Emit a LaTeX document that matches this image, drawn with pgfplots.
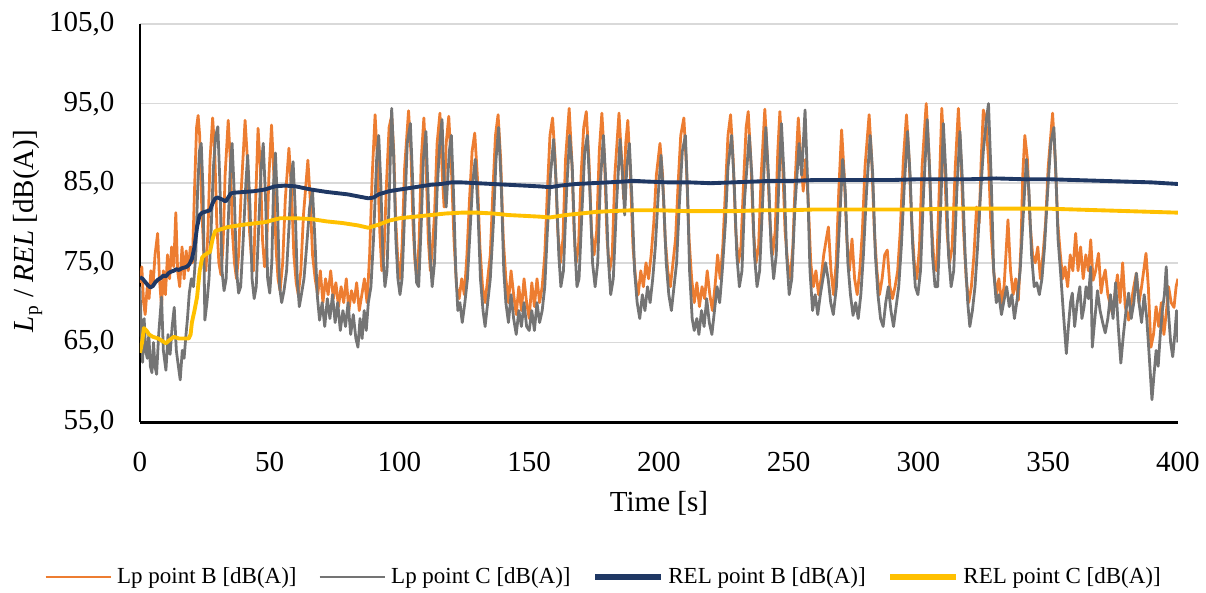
\documentclass[border=0pt]{standalone}
\usepackage{fontspec}
\setmainfont{Liberation Serif}
\usepackage{pgfplots}
\pgfplotsset{compat=1.18}

\definecolor{lpB}{HTML}{ED7D31}
\definecolor{lpC}{HTML}{747474}
\definecolor{relB}{HTML}{1F3864}
\definecolor{relC}{HTML}{FFC000}
\definecolor{gridc}{HTML}{D9D9D9}

\begin{document}
\begin{tikzpicture}
\begin{axis}[
  at={(0,0)}, anchor=south west,
  scale only axis, width=428.9pt, height=164.5pt,
  xmin=0, xmax=400, ymin=55, ymax=105,
  xtick={0,50,...,400}, ytick={55,65,...,105},
  axis x line*=bottom, axis y line*=left,
  axis line style={black, line width=1.2pt, -},
  major tick length=0pt,
  ymajorgrids, grid style={gridc, line width=0.7pt},
  tick label style={font=\fontsize{12}{14}\selectfont},
  /pgf/number format/assume math mode=true,
  yticklabel style={/pgf/number format/.cd, fixed, fixed zerofill, precision=1, use comma, /tikz/.cd, xshift=-7pt},
  xticklabel style={/pgf/number format/.cd, fixed, precision=0, /tikz/.cd, yshift=-9pt},
  xlabel={Time [s]},
  xlabel style={font=\fontsize{12}{14}\selectfont, at={(axis description cs:0.5,-0.204)}, anchor=center},
  ylabel={\textit{L}\textsubscript{p} / \textit{REL} [dB(A)]},
  ylabel style={font=\fontsize{12}{14}\selectfont, at={(axis description cs:-0.108,0.48)}, anchor=center},
  legend columns=4,
  legend style={draw=none, fill=none, font=\fontsize{9.5}{11}\selectfont,
    at={(0.448,-0.389)}, anchor=center,
    /tikz/every even column/.append style={column sep=7pt}},
  legend image code/.code={\draw[#1] (0pt,0pt) -- (27pt,0pt);},
]
% Lp point B
\addplot[lpB, line width=1.15pt, line join=round, forget plot] coordinates {
(0,72.5) (0.7,74.5) (1.4,70) (2,68.5) (2.8,72) (3.5,70.5) (4.2,74) (5,72) (5.8,76) (6.8,78.7)
(7.5,73) (8.3,69.5) (9,74) (9.8,71) (10.6,76) (11.4,73) (12.2,77) (13,74.5) (13.8,81.3) (14.5,74)
(15.3,72) (16.2,77) (17,73) (17.8,76.5) (18.6,74) (19.4,77) (20.2,75) (21,84) (21.8,92) (22.4,93.5)
(23,91) (23.8,82) (24.6,76) (25.4,74) (26.2,79) (27,88) (28,93.2) (28.8,89) (29.6,80) (30.4,75)
(31.2,73.5) (32,77) (32.8,86) (34,92.9) (34.8,88) (35.6,79) (36.4,75) (37.2,73) (38,76) (39,84)
(40.5,92.9) (41.4,88) (42.2,79) (43,75.5) (43.8,74) (44.6,83) (45.5,91.9) (46.4,87) (47.2,78) (48,74.5)
(48.8,77) (49.7,86) (50.7,92.3) (51.6,86) (52.4,77) (53.2,73) (54,71.5) (55,75) (56,83) (57.4,89.4)
(58.4,84) (59.3,76) (60.2,72.5) (61,71) (62,74) (63,81) (64.7,87.9) (65.6,83) (66.5,76) (67.5,73)
(68.5,71) (69.5,74) (70.5,70) (71.5,73) (72.5,71) (73.5,74) (74.5,70.5) (75.5,72.5) (76.5,69.5) (77.5,72)
(78.5,70) (79.5,73) (80.5,69) (81.5,71.5) (82.5,70) (83.5,72.5) (84.5,69) (85.5,71) (86.5,73) (87.5,70)
(88.5,76) (89.5,86) (90.6,93.6) (91.5,88) (92.4,79) (93.2,74) (94,76) (95,85) (96,92) (97,93.5)
(97.8,89) (98.6,80) (99.4,75) (100.2,73) (101,77) (102,87) (103.5,94.1) (104.4,89) (105.2,80) (106,75)
(106.8,73) (107.6,78) (108.4,88) (109.4,93.2) (110.3,87) (111.1,78) (111.9,74) (112.7,77) (113.5,81) (114.5,90)
(115.6,93.8) (116.5,86) (117.2,82) (118,90) (119,93.4) (120,87) (121,78) (122,72) (123,70.5) (124,73)
(125,71) (126,76) (127,83) (128,89) (129,91.3) (130,86) (131,77) (132,72) (133,70) (134,73)
(135,76) (136,84) (137,91) (138,93.6) (139,88) (140,78) (141,73) (142,70) (143,74) (144,71)
(145,68.5) (146,72) (147,69) (148,73) (149,70) (150,68) (151,72.5) (152,69.5) (153,73) (154,70)
(155,72) (156,76) (157,84) (158,91) (159,93.2) (160,88) (161,79) (162,75) (163,78) (164,88)
(165.4,94.4) (166.4,88) (167.3,79) (168.1,75) (169,77) (170,86) (171,92) (172,94) (173,88) (174,79)
(175,76) (176,79) (177,89) (178,93.8) (179,88) (180,78) (181,74) (182,76) (183,86) (184.6,93.8)
(185.6,88) (186.4,83) (187.2,90) (188,92.9) (189,86) (190,77) (191,73) (192,71) (193,74) (194,72)
(195,75) (196,73) (197,76) (198,80) (199,86) (200.4,90) (201.4,86) (202.4,78) (203.4,74) (204.4,72)
(205.4,75) (206.4,78) (207.4,85) (208.4,91) (209.6,93.2) (210.6,87) (211.6,78) (212.6,73) (213.6,70) (214.6,72.5)
(215.6,69.5) (216.6,72) (217.6,70.5) (218.6,74) (219.6,71) (220.6,69) (221.6,72) (222.6,76) (223.6,73) (224.6,77)
(225.6,84) (226.6,91) (227.6,93.6) (228.6,88) (229.6,79) (230.6,75) (231.6,77) (232.6,85) (233.6,92) (234.4,94)
(235.4,88) (236.4,79) (237.4,75) (238.4,77) (239.4,86) (240.8,94.3) (241.8,88) (242.8,80) (243.8,76) (244.8,79)
(245.8,89) (246.6,94) (247.6,88) (248.6,79) (249.6,75) (250.6,73) (251.6,77) (252.6,86) (253.7,93.2) (254.7,88)
(255.6,84) (256.5,88) (257.5,83) (258.5,75) (259.5,72) (260.5,74) (261.5,71) (262.5,73) (263.5,76) (264.5,78)
(265.3,79.5) (266.3,74) (267.3,71) (268.3,75) (269.3,84) (270.4,91.7) (271.4,86) (272.4,78) (273.4,74) (274.4,78)
(275.4,73) (276.4,71) (277.4,74) (278.4,79) (279.4,87) (281,93.6) (282,88) (283,79) (284,74) (285,71)
(286,73) (287,76) (288,76.6) (289,72) (290,70.5) (291,72) (292,74) (293,79) (294.2,88) (295.4,93.6)
(296.4,88) (297.4,80) (298.4,75) (299.4,73) (300.4,77) (301.4,87) (303,95) (304,89) (305,80) (306,75)
(307,74) (308,84) (309,94.4) (310,88) (311,79) (312,75) (313,77) (314.2,87) (315.4,94.4) (316.4,88)
(317.4,79) (318.4,73) (319.4,70) (320.4,72) (321.4,76) (322.4,82) (323.4,80) (324.2,88) (325,94.2) (326,93)
(327,88) (328,79) (329,74) (330,71) (331,73) (332,70) (333,72) (334.5,80.4) (335.5,74) (336.5,71)
(337.5,73) (338.5,70.3) (339.5,77) (340.2,86) (341,91) (342,88) (343,80) (344,76) (345,75) (346,77)
(347,73) (348,76) (349,80) (350,87) (351.7,93.8) (352.7,88) (353.7,80) (354.7,76) (355.6,73) (356.5,74.5)
(357.5,72) (358.5,76) (359.5,74) (360.6,78.7) (361.5,74) (362.5,77) (363.5,73) (364.5,76) (365.5,74) (366.4,77.9)
(367.3,72.8) (368.3,74) (369.4,76.2) (370.4,71.2) (371.2,73) (372,74.1) (373,71) (374.7,68.7) (375.7,71) (376.7,73.5)
(377.7,70) (378.7,75) (379.7,69.5) (381,67.8) (382,70) (383,72) (384,73.7) (385,70) (386,72) (387.7,76.2)
(388.6,72) (389.6,64.4) (390.6,66) (391.6,69.5) (392.6,67) (393.6,70) (394.6,66) (395.6,69) (396.4,72) (397.4,70)
(398.5,69.4) (399.3,72) (400,73)
};
% Lp point C
\addplot[lpC, line width=1.15pt, line join=round, forget plot] coordinates {
(0,72) (0.5,66) (1,62.5) (1.6,68) (2.2,64) (2.8,63) (3.4,66) (4,62) (4.6,61.2) (5.2,65)
(5.8,62) (6.4,61) (7.2,66) (8.3,70.7) (9,64) (10,61.5) (10.8,66) (11.6,63.5) (12.4,67) (13.2,69.4)
(14,64) (14.8,62) (15.5,60.3) (16.3,64) (17,63) (17.6,65.5) (18.3,68) (19,71.2) (19.8,73) (20.6,72)
(21.5,76) (22.2,84) (22.9,89) (23.6,90) (24.3,84) (25,67.8) (25.8,70) (26.6,73) (27.4,79) (28.3,87)
(29.2,91) (30,92.1) (30.8,85) (31.6,74) (32.4,71.5) (33.2,73) (34,80) (34.8,87) (35.5,90) (36.3,84)
(37.2,74) (38,71.2) (38.8,72) (39.8,78) (40.8,85) (41.5,88.5) (42.4,82) (43.2,73) (44,70.5) (44.8,72)
(45.8,80) (46.7,87) (47.5,90) (48.4,83) (49.2,73) (50,71.2) (50.8,75) (51.5,85) (52.2,88.8) (53,82)
(53.8,72) (54.6,70) (55.5,71.5) (56.5,74) (57.5,80) (58.3,86) (59,87.7) (59.8,82) (60.6,73) (61.4,69.5)
(62.2,71) (63.2,73) (64.2,77) (65.4,82) (66.5,84) (67.4,78) (68.3,71) (69.2,67.8) (70.2,70) (71.2,67)
(72.2,70.5) (73.2,68) (74.2,71) (75.2,67.5) (76.2,70) (77.2,66.5) (78.2,69) (79.2,67) (80.2,70) (81.2,66)
(82.2,68.5) (83.2,65.5) (84,64.4) (84.8,68) (85.6,65.5) (86.4,69) (87.2,66.5) (88,70) (89,72) (90,78)
(91.2,88) (92,91) (92.8,85) (93.6,76) (94.4,72) (95.2,74) (96.2,85) (97,94.4) (97.8,88) (98.6,78)
(99.4,73) (100.2,71) (101,73) (102.2,83) (103,90) (104.2,92.5) (105,86) (105.8,77) (106.6,72.5) (107.4,72)
(108.4,80) (109.2,88) (110.2,91.5) (111,84) (111.8,76) (112.6,72) (113.5,75) (114.5,84) (115.5,90) (116.4,93)
(117.2,85) (118,82) (119.2,89) (120,91) (120.8,84) (121.7,74) (122.5,69) (123.3,70) (124.2,67.5) (125.2,70)
(126.2,73) (127.2,79) (128.2,85) (129.2,88) (130.2,82) (131.2,73) (132.2,69) (133,67) (134,70) (135,73)
(136.2,80) (137.2,88) (138.2,92) (139.2,85) (140.2,74) (141,70) (142,67.5) (143,71) (144,68) (145,66)
(146,69) (147,67) (148,70) (149,67) (150,66.5) (151,69) (152,66.5) (153,70) (154,67.5) (155,69)
(156,72) (157,79) (158.2,86) (159.4,90.5) (160.4,85) (161.4,76) (162.2,72) (163.2,74) (164.4,84) (165.6,91)
(166.6,87) (167.6,77) (168.4,72) (169.2,73) (170.4,82) (171.4,89) (172.4,91) (173.4,84) (174.4,75) (175.4,72)
(176.4,75) (177.4,85) (178.6,91) (179.4,86) (180.4,76) (181.4,71) (182.4,73) (183.6,82) (185,90.5) (186,86)
(186.8,81) (187.6,87) (188.6,90) (189.6,83) (190.6,74) (191.6,70) (192.6,68) (193.6,71) (194.6,69) (195.6,72)
(196.6,70) (197.6,73) (198.6,77) (199.8,84) (200.8,88.5) (201.8,83) (202.8,75) (203.8,71) (204.8,69) (205.8,72)
(206.8,75) (207.8,82) (209,89) (210.2,91) (211,84) (211.8,74) (212.8,68) (213.6,66.5) (214.6,68) (215.4,66)
(216.4,69) (217.4,67) (218.4,70.5) (219.4,67.5) (220.4,66) (221.4,69) (222.4,72) (223.4,70) (224.4,74) (225.6,80)
(226.6,87) (228,91) (229,85) (230,76) (231,72) (232,74) (233,83) (234.8,91) (235.8,86) (236.8,76)
(237.8,72) (238.8,74) (240,83) (241.2,92) (242.2,86) (243.2,77) (244.2,73) (245.2,76) (246.2,85) (247.2,92.5)
(248.2,86) (249.2,76) (250.2,71) (251.2,73) (252.4,82) (254,90) (255,86) (256.3,94.2) (257.2,86) (258.2,74)
(259.2,69) (260.2,71) (261.2,68.5) (262.2,71) (263.2,73) (264.2,75) (265.2,73) (266.2,70) (267.2,68.5) (268.4,72)
(269.6,80) (270.8,88) (271.8,84) (272.8,75) (273.8,71) (274.8,68.4) (275.8,70) (276.8,68) (277.8,71) (278.8,76)
(280,84) (281.4,91) (282.4,86) (283.4,76) (284.4,71) (285.4,68) (286.4,67) (287.4,70) (288.4,72) (289.4,69)
(290.4,67) (291.4,69.5) (292.4,72) (293.4,77) (294.6,85) (295.8,91.5) (296.8,86) (297.8,77) (298.8,72) (299.8,71)
(300.8,74) (302,84) (303.4,93) (304.4,86) (305.4,76) (306.4,72) (307.4,72) (308.6,82) (309.6,92.5) (310.6,86)
(311.6,76) (312.6,72) (313.6,74) (314.8,84) (316,91.5) (317,85) (318,76) (319,70) (319.8,67) (320.8,69)
(321.8,72) (322.8,77) (323.8,83) (325,89) (326.2,93) (327,95) (328,86) (329,74) (330,70) (331,71)
(332,68.5) (333,70.3) (334,72) (335,69.5) (336,71) (337,68) (338,70.3) (339.2,74) (340.4,81) (341.6,88)
(342.6,84) (343.6,76) (344.6,72) (345.6,72.5) (346.6,71) (347.6,73) (348.6,77) (349.8,84) (351,90) (352.2,92)
(353,86) (353.8,78) (354.8,73.7) (355.8,69) (357,63.6) (357.8,67) (358.6,70) (359.3,71.2) (360.2,67) (361.2,70)
(362.2,72) (363,68) (363.8,69.4) (364.6,72) (365.5,70.5) (366.4,74.5) (367,64.4) (368,68) (369,71.5) (370,69)
(371,67.5) (372,66.2) (373,68) (374,71) (375,68) (376,72.5) (377,67) (378,62.4) (379,66) (380,69)
(381,71.2) (382,68) (383,70) (384,73.7) (385,70) (386,67.5) (387,71) (388,68) (389,63) (390,57.8)
(390.8,61) (391.6,64) (392.4,62) (393.2,66) (394,69) (394.8,71) (395.5,74.5) (396.3,69) (397.2,65) (398,63.2)
(398.8,66) (399.5,69) (400,65)
};
% REL point B
\addplot[relB, line width=1.6pt, line join=round, forget plot] coordinates {
(0,73.2) (1,73) (2,72.6) (3,72.2) (4,71.9) (5,72.1) (6,72.6) (7,72.9) (8,73.1) (9,73.4)
(10,73.3) (11,73.7) (12,73.9) (13,74) (14,74.2) (15,74.1) (16,74.3) (17,74.4) (18,74.5) (19,74.8)
(20,75.5) (21,77) (22,79.5) (23,81) (24,81.3) (26,81.5) (27,81.6) (28,82.5) (29,83.1) (30,83.2)
(32,82.9) (33,82.7) (34,83.2) (35,83.7) (36,83.8) (40,83.9) (44,84) (48,84.2) (52,84.6) (56,84.7)
(60,84.6) (66,84.2) (72,83.9) (80,83.6) (88,83.1) (90,83.2) (92,83.6) (96,84) (100,84.2) (104,84.4)
(108,84.6) (112,84.8) (116,84.9) (120,85.1) (124,85.1) (130,85) (136,84.9) (142,84.8) (148,84.7) (154,84.6)
(158,84.5) (162,84.7) (168,84.9) (174,85) (180,85.1) (186,85.2) (190,85.3) (196,85.2) (204,85.1) (212,85.1)
(220,85) (228,85.1) (236,85.2) (244,85.3) (252,85.3) (260,85.4) (270,85.4) (280,85.4) (290,85.4) (300,85.5)
(310,85.5) (320,85.5) (330,85.6) (340,85.5) (350,85.5) (360,85.4) (370,85.3) (380,85.2) (390,85.1) (400,84.9)
};
% REL point C
\addplot[relC, line width=1.6pt, line join=round, forget plot] coordinates {
(0,63.7) (0.8,65) (1.5,66.8) (2.5,66.5) (3.5,66) (5,65.7) (7,65.5) (9,65.1) (10,64.9) (11,65.2)
(13,65.7) (15,65.5) (17,65.5) (18.8,65.5) (19.5,66) (20,67.5) (21,69) (22,70.7) (23,74) (24,75.7)
(25,76) (26,76.2) (27,76.4) (28,78) (29,79) (30,79.1) (34,79.5) (40,79.8) (48,80.1) (54,80.6)
(60,80.6) (66,80.5) (72,80.2) (78,80) (84,79.7) (88,79.4) (92,79.8) (96,80.3) (100,80.6) (106,80.8)
(112,81) (118,81.2) (124,81.3) (130,81.3) (136,81.2) (142,81) (148,80.9) (154,80.8) (158,80.7) (164,81)
(170,81.2) (176,81.4) (182,81.5) (190,81.6) (200,81.6) (210,81.5) (220,81.5) (230,81.5) (240,81.6) (250,81.6)
(260,81.7) (270,81.7) (280,81.7) (290,81.7) (300,81.7) (310,81.8) (320,81.8) (330,81.8) (340,81.8) (350,81.8)
(360,81.7) (370,81.6) (380,81.5) (390,81.4) (400,81.3)
};
\addlegendimage{lpB, line width=1.1pt}
\addlegendimage{lpC, line width=1.1pt}
\addlegendimage{relB, line width=2.4pt}
\addlegendimage{relC, line width=2.4pt}
\legend{Lp point B [dB(A)], Lp point C [dB(A)], REL point B [dB(A)], REL point C [dB(A)]}
\end{axis}
\pgfresetboundingbox
\path (-57.85pt,-70.25pt) rectangle (440.5pt,174.4pt);
\end{tikzpicture}
\end{document}
